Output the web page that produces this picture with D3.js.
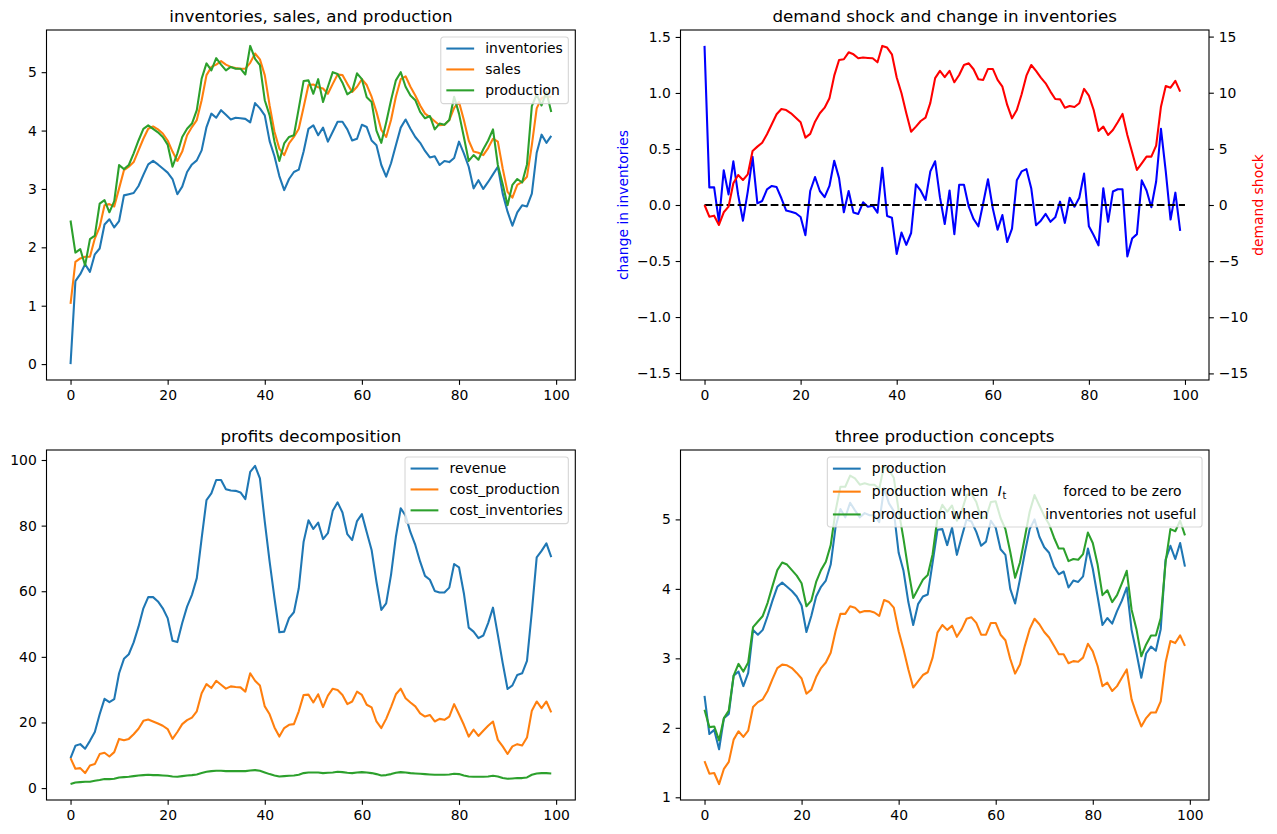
<!DOCTYPE html>
<html>
<head>
<meta charset="utf-8">
<script src="https://cdn.jsdelivr.net/npm/d3@7"></script>
<style>
  body { margin: 0; background: #fff; }
  svg { display: block; font-family: "DejaVu Sans", sans-serif; }
</style>
</head>
<body>
<div id="chart"></div>
<script>
// ---- data (t = 0..99) ----
const periods = d3.range(100);
const xTicks = [0, 20, 40, 60, 80, 100];
const baselineSpan = [0, 100];   // dashed zero line in the top-right panel

const inventories = [
  0, 1.42, 1.54, 1.71, 1.58, 1.88, 1.98, 2.39, 2.48, 2.34,
  2.45, 2.89, 2.91, 2.93, 3.05, 3.24, 3.42, 3.48, 3.42, 3.35,
  3.28, 3.17, 2.91, 3.04, 3.29, 3.42, 3.49, 3.66, 4.06, 4.29,
  4.22, 4.35, 4.27, 4.19, 4.22, 4.21, 4.20, 4.14, 4.47, 4.38,
  4.26, 3.82, 3.56, 3.22, 2.98, 3.17, 3.29, 3.33, 3.64, 4.03,
  4.09, 3.92, 4.05, 3.81, 3.98, 4.15, 4.15, 4.02, 3.83, 3.86,
  4.10, 4.06, 3.83, 3.75, 3.41, 3.21, 3.44, 3.75, 4.05, 4.19,
  4.03, 3.89, 3.79, 3.65, 3.54, 3.56, 3.41, 3.48, 3.46, 3.53,
  3.81, 3.61, 3.38, 3.01, 3.15, 3.00, 3.12, 3.25, 3.38, 2.92,
  2.61, 2.37, 2.60, 2.72, 2.70, 2.92, 3.62, 3.93, 3.79, 3.91
];
const sales = [
  1.03, 1.75, 1.81, 1.84, 1.84, 2.15, 2.35, 2.72, 2.74, 2.70,
  3.01, 3.32, 3.38, 3.46, 3.66, 3.86, 4.03, 4.07, 4.02, 3.95,
  3.83, 3.64, 3.48, 3.64, 3.92, 4.06, 4.18, 4.52, 4.95, 5.09,
  5.13, 5.19, 5.13, 5.09, 5.07, 5.06, 5.06, 5.16, 5.32, 5.22,
  4.95, 4.43, 3.98, 3.69, 3.58, 3.78, 3.89, 4.03, 4.40, 4.78,
  4.79, 4.74, 4.72, 4.63, 4.80, 4.96, 4.95, 4.80, 4.66, 4.75,
  4.88, 4.78, 4.58, 4.32, 4.01, 3.89, 4.18, 4.58, 4.88, 4.93,
  4.75, 4.60, 4.43, 4.29, 4.23, 4.16, 4.09, 4.10, 4.18, 4.39,
  4.49, 4.18, 3.83, 3.64, 3.62, 3.58, 3.70, 3.86, 3.81, 3.35,
  2.95, 2.85, 3.07, 3.12, 3.21, 3.75, 4.38, 4.56, 4.58, 4.58
];
const production = [
  2.46, 1.91, 1.97, 1.69, 2.14, 2.20, 2.75, 2.81, 2.60, 2.79,
  3.41, 3.34, 3.41, 3.61, 3.83, 4.03, 4.09, 4.03, 3.97, 3.89,
  3.76, 3.38, 3.61, 3.89, 4.03, 4.12, 4.35, 4.89, 5.15, 5.03,
  5.24, 5.13, 5.03, 5.09, 5.06, 5.06, 4.96, 5.45, 5.23, 5.12,
  4.52, 4.26, 3.81, 3.48, 3.78, 3.89, 3.92, 4.38, 4.85, 4.86,
  4.63, 4.88, 4.49, 4.75, 5.00, 4.97, 4.82, 4.62, 4.68, 4.98,
  4.88, 4.57, 4.49, 4.00, 3.79, 4.14, 4.52, 4.86, 5.00, 4.75,
  4.60, 4.52, 4.32, 4.21, 4.25, 4.02, 4.12, 4.10, 4.18, 4.58,
  4.29, 3.89, 3.48, 3.58, 3.50, 3.68, 3.83, 4.02, 3.41, 3.08,
  2.72, 3.07, 3.17, 3.11, 3.42, 4.42, 4.62, 4.43, 4.66, 4.32
];
const changeInventories = [
  1.42, 0.157, 0.157, -0.15, 0.31, 0.095, 0.39, 0.09, -0.14, 0.12,
  0.43, 0.015, 0.036, 0.14, 0.17, 0.16, 0.06, -0.05, -0.06, -0.074,
  -0.107, -0.27, 0.125, 0.25, 0.125, 0.07, 0.17, 0.395, 0.24, -0.065,
  0.125, -0.068, -0.08, 0.024, -0.015, -0.006, -0.068, 0.333, -0.098, -0.113,
  -0.437, -0.246, -0.356, -0.25, 0.184, 0.128, 0.045, 0.30, 0.39, 0.07,
  -0.17, 0.13, -0.26, 0.18, 0.18, -0.015, -0.125, -0.19, 0.015, 0.23,
  -0.03, -0.22, -0.09, -0.33, -0.21, 0.22, 0.30, 0.32, 0.15, -0.18,
  -0.14, -0.08, -0.15, -0.11, 0.03, -0.16, 0.065, -0.015, 0.065, 0.28,
  -0.19, -0.27, -0.36, 0.15, -0.15, 0.12, 0.14, 0.14, -0.46, -0.30,
  -0.26, 0.22, 0.13, -0.02, 0.21, 0.68, 0.30, -0.13, 0.11, -0.23
];
const demandShock = [
  0, -1.04, -0.95, -1.78, -0.65, -0.15, 1.93, 2.67, 2.23, 2.73,
  4.81, 5.20, 5.55, 6.30, 7.19, 8.08, 8.55, 8.46, 8.17, 7.78,
  7.37, 6.00, 6.33, 7.42, 8.17, 8.67, 9.50, 11.52, 12.92, 12.98,
  13.60, 13.42, 13.07, 13.13, 13.10, 13.07, 12.71, 14.17, 14.02, 13.42,
  11.35, 9.95, 8.17, 6.53, 6.98, 7.48, 7.78, 9.10, 11.30, 11.95,
  11.38, 11.95, 10.93, 11.58, 12.47, 12.62, 12.09, 11.20, 11.14, 12.12,
  12.12, 11.14, 10.54, 8.91, 7.72, 8.46, 9.86, 11.52, 12.47, 11.94,
  11.35, 10.84, 10.10, 9.44, 9.41, 8.67, 8.82, 8.73, 9.06, 10.34,
  9.74, 8.46, 6.59, 6.98, 6.24, 6.68, 7.37, 8.11, 6.24, 4.69,
  3.12, 3.71, 4.31, 4.31, 5.29, 8.76, 10.60, 10.45, 11.05, 10.10
];
const revenue = [
  9.14, 12.9, 13.4, 12.0, 14.4, 17.1, 22.5, 27.2, 26.2, 27.1,
  35.0, 39.4, 40.8, 44.4, 49.2, 54.8, 58.2, 58.2, 56.9, 54.8,
  51.8, 44.9, 44.5, 50.3, 55.3, 58.9, 64.0, 76.1, 87.8, 89.8,
  93.9, 93.9, 91.1, 90.7, 90.6, 90.1, 88.1, 96.4, 98.2, 94.4,
  81.2, 69.0, 57.9, 47.5, 47.7, 51.8, 53.6, 60.9, 75.1, 81.6,
  79.0, 80.9, 75.9, 77.7, 84.5, 87.1, 84.0, 77.4, 75.6, 81.4,
  83.5, 78.0, 72.6, 62.9, 54.3, 56.3, 65.0, 76.6, 85.3, 83.0,
  78.0, 74.1, 69.0, 64.7, 63.5, 60.1, 59.6, 59.6, 61.1, 68.3,
  67.3, 59.4, 48.9, 47.7, 45.7, 46.5, 50.3, 55.0, 46.7, 38.1,
  30.2, 31.3, 34.5, 35.0, 38.8, 53.8, 70.3, 72.3, 74.6, 70.4
];
const costProduction = [
  9.14, 5.89, 6.09, 4.57, 6.90, 7.31, 10.36, 10.76, 9.64, 10.96,
  15.0, 14.6, 15.0, 16.4, 18.1, 20.5, 20.9, 20.3, 19.7, 19.0,
  18.0, 15.0, 17.1, 19.5, 20.7, 21.5, 23.4, 28.9, 31.7, 30.5,
  32.7, 31.5, 30.3, 31.0, 30.8, 30.7, 29.4, 35.0, 32.7, 31.3,
  24.9, 22.5, 18.5, 15.7, 18.3, 19.3, 19.5, 23.4, 28.4, 28.5,
  26.1, 28.6, 24.7, 28.2, 30.3, 29.9, 28.4, 25.6, 26.4, 29.4,
  28.4, 25.4, 24.6, 20.3, 18.3, 21.1, 24.7, 28.6, 30.3, 27.4,
  26.1, 24.9, 22.8, 21.8, 22.3, 20.3, 21.1, 20.8, 21.8, 25.6,
  22.5, 19.3, 15.7, 17.8, 15.9, 17.5, 19.0, 20.3, 14.7, 12.7,
  10.4, 12.7, 13.4, 13.0, 15.4, 23.6, 26.4, 24.4, 26.4, 23.1
];
const costInventories = [
  1.22, 1.73, 1.83, 1.93, 1.93, 2.23, 2.44, 2.74, 2.74, 2.84,
  3.25, 3.35, 3.45, 3.65, 3.86, 3.96, 4.06, 3.96, 3.96, 3.86,
  3.76, 3.55, 3.45, 3.65, 3.86, 3.96, 4.16, 4.57, 4.97, 5.18,
  5.28, 5.28, 5.18, 5.18, 5.18, 5.18, 5.18, 5.38, 5.48, 5.28,
  4.77, 4.26, 3.86, 3.55, 3.65, 3.76, 3.86, 4.06, 4.57, 4.77,
  4.77, 4.77, 4.57, 4.67, 4.77, 4.97, 4.87, 4.67, 4.57, 4.77,
  4.87, 4.77, 4.57, 4.26, 3.86, 3.96, 4.26, 4.67, 4.87, 4.77,
  4.57, 4.47, 4.37, 4.26, 4.16, 4.06, 4.06, 4.06, 4.16, 4.37,
  4.26, 3.86, 3.55, 3.45, 3.45, 3.45, 3.55, 3.76, 3.55, 3.05,
  2.84, 2.94, 3.05, 3.05, 3.25, 4.06, 4.47, 4.57, 4.57, 4.47
];
const productionZeroInv = [
  1.52, 1.34, 1.35, 1.19, 1.41, 1.51, 1.83, 1.95, 1.87, 1.96,
  2.30, 2.37, 2.41, 2.53, 2.70, 2.86, 2.91, 2.90, 2.86, 2.79,
  2.71, 2.49, 2.55, 2.73, 2.86, 2.94, 3.08, 3.39, 3.64, 3.64,
  3.75, 3.73, 3.66, 3.68, 3.68, 3.66, 3.61, 3.84, 3.81, 3.73,
  3.39, 3.13, 2.84, 2.58, 2.67, 2.76, 2.80, 3.01, 3.37, 3.48,
  3.41, 3.47, 3.31, 3.42, 3.57, 3.59, 3.51, 3.34, 3.34, 3.51,
  3.51, 3.34, 3.26, 2.99, 2.78, 2.91, 3.18, 3.42, 3.57, 3.49,
  3.38, 3.30, 3.18, 3.06, 3.06, 2.93, 2.96, 2.95, 3.01, 3.21,
  3.10, 2.89, 2.60, 2.65, 2.53, 2.60, 2.72, 2.84, 2.41, 2.20,
  2.02, 2.14, 2.22, 2.22, 2.38, 2.94, 3.25, 3.22, 3.33, 3.18
];
const productionNoInv = [
  2.26, 2.01, 2.02, 1.82, 2.14, 2.25, 2.75, 2.92, 2.81, 2.94,
  3.45, 3.53, 3.61, 3.80, 4.04, 4.27, 4.38, 4.35, 4.27, 4.19,
  4.08, 3.75, 3.83, 4.10, 4.27, 4.39, 4.63, 5.12, 5.47, 5.47,
  5.63, 5.59, 5.50, 5.52, 5.50, 5.50, 5.44, 5.77, 5.71, 5.60,
  5.13, 4.72, 4.27, 3.87, 4.00, 4.13, 4.20, 4.50, 5.02, 5.21,
  5.11, 5.20, 4.98, 5.12, 5.35, 5.37, 5.25, 5.02, 5.03, 5.25,
  5.26, 5.02, 4.86, 4.53, 4.16, 4.38, 4.74, 5.11, 5.35, 5.20,
  5.05, 4.93, 4.74, 4.58, 4.58, 4.40, 4.43, 4.42, 4.50, 4.81,
  4.66, 4.35, 3.91, 3.98, 3.81, 3.91, 4.08, 4.26, 3.70, 3.42,
  3.03, 3.20, 3.33, 3.33, 3.58, 4.38, 4.86, 4.83, 4.98, 4.77
];

const p1YTicks = [0, 1, 2, 3, 4, 5];
const p2LeftTicks = [-1.5, -1.0, -0.5, 0.0, 0.5, 1.0, 1.5];
const p2RightTicks = [-15, -10, -5, 0, 5, 10, 15];
const p3YTicks = [0, 20, 40, 60, 80, 100];
const p4YTicks = [1, 2, 3, 4, 5];

// ---- look (matplotlib defaults at 100 dpi) ----
const W = 1277, H = 834;
const FS = 13.9;     // 10pt
const LW = 2.08;     // 1.5pt
const TICK = 4.86;   // 3.5pt
const C_BLUE = "#1f77b4", C_ORANGE = "#ff7f0e", C_GREEN = "#2ca02c";

const svg = d3.select("#chart").append("svg")
  .attr("width", W).attr("height", H);

const boxes = {
  tl: { left: 46.5, top: 30, right: 575.3, bottom: 380 },
  tr: { left: 680.5, top: 30, right: 1209, bottom: 380 },
  bl: { left: 46.5, top: 450, right: 575.3, bottom: 800 },
  br: { left: 680.5, top: 450, right: 1209, bottom: 800 }
};

// matplotlib-style 5% margins
const padded = (...arrs) => {
  const [lo, hi] = d3.extent(arrs.flat());
  const m = (hi - lo) * 0.05;
  return [lo - m, hi + m];
};

const styleAxis = g => {
  g.attr("font-size", FS).attr("font-family", "DejaVu Sans");
  g.select(".domain").remove();
  g.selectAll(".tick line").attr("stroke", "#000").attr("stroke-width", 1.1);
  g.selectAll(".tick text").attr("fill", "#000");
};

function makePanel(box, xDomain, yDomain, yTicks, yFmt, title) {
  const x = d3.scaleLinear().domain(xDomain).range([box.left, box.right]);
  const y = d3.scaleLinear().domain(yDomain).range([box.bottom, box.top]);
  const g = svg.append("g");

  g.append("g").attr("transform", `translate(0,${box.bottom})`)
    .call(d3.axisBottom(x).tickValues(xTicks).tickFormat(d3.format("d"))
      .tickSize(TICK).tickPadding(4.86))
    .call(styleAxis);
  g.append("g").attr("transform", `translate(${box.left},0)`)
    .call(d3.axisLeft(y).tickValues(yTicks).tickFormat(yFmt)
      .tickSize(TICK).tickPadding(4.86))
    .call(styleAxis);

  const plot = g.append("g");
  g.append("rect")
    .attr("x", box.left).attr("y", box.top)
    .attr("width", box.right - box.left).attr("height", box.bottom - box.top)
    .attr("fill", "none").attr("stroke", "#000").attr("stroke-width", 1.1);

  g.append("text")
    .attr("x", (box.left + box.right) / 2).attr("y", box.top - 8.3)
    .attr("text-anchor", "middle").attr("font-size", 16.7)
    .text(title);

  return { g, plot, x, y, box };
}

function addLine(p, xs, ys, color, yScale, dash) {
  const ysc = yScale || p.y;
  const path = p.plot.append("path")
    .datum(xs.map((t, i) => [t, ys[i]]))
    .attr("d", d3.line().x(d => p.x(d[0])).y(d => ysc(d[1])))
    .attr("fill", "none")
    .attr("stroke", color)
    .attr("stroke-width", LW)
    .attr("stroke-linejoin", "round");
  if (dash) path.attr("stroke-dasharray", dash);
  return path;
}

// legend in the upper right corner, sized from its text
function addLegend(p, items, baselines, boxH) {
  const bp = 0.4 * FS, hl = 2 * FS, htp = 0.8 * FS;
  const textX = bp + hl + htp;
  const lg = p.g.append("g");
  const frame = lg.append("rect");
  let maxRight = 0;

  items.forEach((it, i) => {
    const yb = baselines[i];
    lg.append("line")
      .attr("x1", bp).attr("x2", bp + hl)
      .attr("y1", yb - 4.8).attr("y2", yb - 4.8)
      .attr("stroke", it.color).attr("stroke-width", LW);
    const txt = lg.append("text").attr("y", yb).attr("font-size", FS).attr("fill", "#000");
    const parts = it.parts || [{ text: it.label, at: 0 }];
    parts.forEach(pt => {
      const ts = txt.append("tspan").attr("x", textX + pt.at).text(pt.text);
      if (pt.italic) ts.attr("font-style", "italic");
      if (pt.size) ts.attr("font-size", pt.size);
      if (pt.dy) ts.attr("dy", pt.dy);
    });
    const bb = txt.node().getBBox();
    maxRight = Math.max(maxRight, bb.x + bb.width);
  });

  const w = maxRight + bp;
  frame.attr("x", 0).attr("y", 0).attr("width", w).attr("height", boxH)
    .attr("rx", 2.8).attr("ry", 2.8)
    .attr("fill", "#fff").attr("fill-opacity", 0.8)
    .attr("stroke", "#cccccc").attr("stroke-opacity", 0.8).attr("stroke-width", 1.1);
  lg.attr("transform", `translate(${p.box.right - 0.5 * FS - w},${p.box.top + 0.5 * FS})`);
}

// ---- 1) inventories, sales, and production ----
const p1 = makePanel(boxes.tl, padded(periods), padded(inventories, sales, production),
  p1YTicks, d3.format("d"), "inventories, sales, and production");
addLine(p1, periods, inventories, C_BLUE);
addLine(p1, periods, sales, C_ORANGE);
addLine(p1, periods, production, C_GREEN);
addLegend(p1, [
  { label: "inventories", color: C_BLUE },
  { label: "sales", color: C_ORANGE },
  { label: "production", color: C_GREEN }
], [16.4, 37.3, 58.2], 66.7);

// ---- 2) demand shock and change in inventories (twin axes) ----
const invLim = 1.1 * d3.max(changeInventories, v => Math.abs(v));
const shockLim = 1.1 * d3.max(demandShock, v => Math.abs(v));
const p2 = makePanel(boxes.tr, padded(periods, baselineSpan), [-invLim, invLim],
  p2LeftTicks, d3.format(".1f"), "demand shock and change in inventories");
const yShock = d3.scaleLinear().domain([-shockLim, shockLim])
  .range([boxes.tr.bottom, boxes.tr.top]);
p2.g.append("g").attr("transform", `translate(${boxes.tr.right},0)`)
  .call(d3.axisRight(yShock).tickValues(p2RightTicks).tickFormat(d3.format("d"))
    .tickSize(TICK).tickPadding(4.86))
  .call(styleAxis);

addLine(p2, periods, changeInventories, "#0000ff");
addLine(p2, baselineSpan, [0, 0], "#000", null, "7.7,3.33");
addLine(p2, periods, demandShock, "#ff0000", yShock);

p2.g.append("text")
  .attr("transform", `translate(627.8,${(boxes.tr.top + boxes.tr.bottom) / 2}) rotate(-90)`)
  .attr("text-anchor", "middle").attr("font-size", FS).attr("fill", "#0000ff")
  .text("change in inventories");
p2.g.append("text")
  .attr("transform", `translate(1262.8,${(boxes.tr.top + boxes.tr.bottom) / 2}) rotate(-90)`)
  .attr("text-anchor", "middle").attr("font-size", FS).attr("fill", "#ff0000")
  .text("demand shock");

// ---- 3) profits decomposition ----
const p3 = makePanel(boxes.bl, padded(periods), padded(revenue, costProduction, costInventories),
  p3YTicks, d3.format("d"), "profits decomposition");
addLine(p3, periods, revenue, C_BLUE);
addLine(p3, periods, costProduction, C_ORANGE);
addLine(p3, periods, costInventories, C_GREEN);
addLegend(p3, [
  { label: "revenue", color: C_BLUE },
  { label: "cost_production", color: C_ORANGE },
  { label: "cost_inventories", color: C_GREEN }
], [16.4, 37.3, 58.2], 66.7);

// ---- 4) three production concepts ----
const p4 = makePanel(boxes.br, padded(periods), padded(production, productionZeroInv, productionNoInv),
  p4YTicks, d3.format("d"), "three production concepts");
addLine(p4, periods, production, C_BLUE);
addLine(p4, periods, productionZeroInv, C_ORANGE);
addLine(p4, periods, productionNoInv, C_GREEN);
addLegend(p4, [
  { label: "production", color: C_BLUE },
  { color: C_ORANGE, parts: [
    { text: "production when", at: 0 },
    { text: "I", at: 126, italic: true },
    { text: "t", at: 130.8, size: 9.7, dy: 2.9 },
    { text: "forced to be zero", at: 191.7, dy: -2.9 }
  ] },
  { color: C_GREEN, parts: [
    { text: "production when", at: 0 },
    { text: "inventories not useful", at: 173.4 }
  ] }
], [16.5, 39.5, 62.3], 70);
</script>
</body>
</html>
